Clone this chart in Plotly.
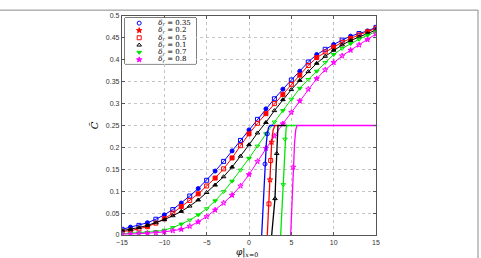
import plotly.graph_objects as go

# ---------------- data ----------------
phi = list(range(-15, 16))

C_blue = [0.013, 0.018, 0.022, 0.028, 0.036, 0.046, 0.058, 0.073, 0.089, 0.106, 0.125,
          0.146, 0.168, 0.192, 0.216, 0.240, 0.264, 0.288, 0.311, 0.333, 0.354, 0.374,
          0.395, 0.412, 0.424, 0.435, 0.445, 0.454, 0.460, 0.466, 0.474]
C_red = [0.008, 0.010, 0.014, 0.019, 0.027, 0.037, 0.050, 0.065, 0.079, 0.094, 0.112,
         0.130, 0.151, 0.176, 0.204, 0.231, 0.255, 0.277, 0.300, 0.321, 0.344, 0.365,
         0.387, 0.405, 0.418, 0.429, 0.440, 0.449, 0.457, 0.464, 0.472]
C_black = [0.010, 0.013, 0.017, 0.022, 0.028, 0.035, 0.044, 0.054, 0.066, 0.080, 0.097,
           0.114, 0.133, 0.155, 0.180, 0.206, 0.233, 0.257, 0.284, 0.309, 0.332, 0.353,
           0.373, 0.392, 0.408, 0.422, 0.434, 0.444, 0.452, 0.460, 0.468]
C_green = [0.003, 0.004, 0.005, 0.006, 0.008, 0.011, 0.017, 0.025, 0.034, 0.046, 0.060,
           0.078, 0.099, 0.123, 0.148, 0.175, 0.203, 0.231, 0.258, 0.284, 0.310, 0.335,
           0.355, 0.374, 0.394, 0.412, 0.426, 0.437, 0.447, 0.456, 0.464]
C_magenta = [0.002, 0.002, 0.003, 0.004, 0.005, 0.007, 0.010, 0.013, 0.020, 0.030, 0.042,
             0.057, 0.073, 0.091, 0.112, 0.138, 0.168, 0.198, 0.226, 0.254, 0.280, 0.306,
             0.333, 0.357, 0.377, 0.394, 0.409, 0.422, 0.434, 0.446, 0.459]

# steep (threshold) curves
vb_phi = [1.50, 1.62, 1.75, 1.89, 2.05, 2.16, 2.30, 2.48, 3.07]
vb_C = [0.00, 0.05, 0.10, 0.162, 0.21, 0.231, 0.245, 0.25, 0.25]
vr_phi = [2.16, 2.36, 2.48, 2.56, 2.68, 2.85, 3.07, 3.42]
vr_C = [0.00, 0.071, 0.126, 0.170, 0.212, 0.240, 0.25, 0.25]
vk_phi = [2.68, 2.90, 3.07, 3.18, 3.27, 3.35, 3.42, 4.49]
vk_C = [0.00, 0.040, 0.083, 0.140, 0.186, 0.235, 0.25, 0.25]
vg_phi = [3.74, 3.90, 4.05, 4.15, 4.25, 4.38, 4.49, 5.67]
vg_C = [0.00, 0.060, 0.115, 0.170, 0.219, 0.243, 0.25, 0.25]
vm_phi = [4.92, 5.08, 5.23, 5.38, 5.52, 5.67, 15]
vm_C = [0.00, 0.080, 0.155, 0.210, 0.240, 0.25, 0.25]

# marker points on steep curves (one set per delta_r)
mk_phi = {"0.35": [1.89, 2.16], "0.2": [2.48, 2.68], "0.5": [2.36, 2.56],
          "0.1": [3.07, 3.27], "0.7": [4.05, 4.25], "0.8": [5.23]}
mk_C = {"0.35": [0.162, 0.231], "0.2": [0.126, 0.212], "0.5": [0.071, 0.170],
        "0.1": [0.083, 0.186], "0.7": [0.115, 0.219], "0.8": [0.155]}

deltas = ["0.35", "0.2", "0.5", "0.1", "0.7", "0.8"]
x_ticks = [-15, -10, -5, 0, 5, 10, 15]
y_ticks = [0, 0.05, 0.1, 0.15, 0.2, 0.25, 0.3, 0.35, 0.4, 0.45, 0.5]
y_ticktext = ["0", "0.05", "0.1", "0.15", "0.2", "0.25", "0.3", "0.35", "0.4", "0.45", "0.5"]

# ---------------- style ----------------
BLUE, RED, BLACK, GREEN, MAG = "#0000ff", "#ff0000", "#000000", "#00e600", "#ff00ff"
sym_leg = {"0.35": ("circle-open", BLUE), "0.2": ("star", RED), "0.5": ("square-open", RED),
           "0.1": ("triangle-up-open", BLACK), "0.7": ("triangle-down", GREEN),
           "0.8": ("star", MAG)}
sym_steep = {"0.35": "circle-open", "0.2": "star-open", "0.5": "square-open",
             "0.1": "triangle-up-open", "0.7": "triangle-down-open", "0.8": "star-open"}
MS = 4

fig = go.Figure()

s_curves = [(C_blue, BLUE, "circle", "square-open"),
            (C_red, RED, "square", "square-open"),
            (C_black, BLACK, "triangle-up", "triangle-up-open"),
            (C_green, GREEN, "triangle-down", "triangle-down-open"),
            (C_magenta, MAG, "star", "star-open")]
for vals, col, filled, hollow in s_curves:
    symbols = [filled if p % 2 == 0 else hollow for p in phi]
    fig.add_trace(go.Scatter(x=phi, y=vals, mode="lines+markers", showlegend=False,
                             line=dict(color=col, width=1),
                             marker=dict(symbol=symbols, size=MS, color=col,
                                         line=dict(color=col, width=1))))

for px_, cy, col in [(vb_phi, vb_C, BLUE), (vr_phi, vr_C, RED), (vk_phi, vk_C, BLACK),
                     (vg_phi, vg_C, GREEN), (vm_phi, vm_C, MAG)]:
    fig.add_trace(go.Scatter(x=px_, y=cy, mode="lines", showlegend=False,
                             line=dict(color=col, width=1.3)))

for d in deltas:
    col = sym_leg[d][1]
    fig.add_trace(go.Scatter(x=mk_phi[d], y=mk_C[d], mode="markers", showlegend=False,
                             marker=dict(symbol=sym_steep[d], size=MS, color=col,
                                         line=dict(color=col, width=1))))

# hand-drawn legend on an auxiliary axis pair
rows = list(range(len(deltas) - 1, -1, -1))
fig.add_trace(go.Scatter(x=[0.2] * len(deltas), y=rows, mode="markers", xaxis="x2", yaxis="y2",
                         showlegend=False, hoverinfo="skip",
                         marker=dict(symbol=[sym_leg[d][0] for d in deltas], size=MS,
                                     color=[sym_leg[d][1] for d in deltas],
                                     line=dict(color=[sym_leg[d][1] for d in deltas], width=1))))
fig.add_trace(go.Scatter(x=[0.47] * len(deltas), y=rows, mode="text", xaxis="x2", yaxis="y2",
                         showlegend=False, hoverinfo="skip",
                         text=["<i>δ</i><sub><i>r</i></sub> = " + d for d in deltas],
                         textposition="middle right",
                         textfont=dict(family="DejaVu Serif", size=7, color="black")))

axis_common = dict(showline=True, linecolor="#555555", linewidth=1.3, mirror="ticks",
                   ticks="inside", ticklen=3, tickcolor="#555555",
                   showgrid=True, gridcolor="#c4c4c4", griddash="dot", gridwidth=1,
                   zeroline=False, tickfont=dict(family="Liberation Sans", size=7, color="#333333"))

L, R, T, B = 122, 376, 16, 240
W, H = 481, 258
fig.update_layout(
    width=W, height=H,
    margin=dict(l=L, r=W - R, t=T, b=H - B, pad=0),
    paper_bgcolor="white", plot_bgcolor="white",
    xaxis=dict(range=[-15, 15], tickvals=x_ticks, **axis_common),
    yaxis=dict(range=[0, 0.5], tickvals=y_ticks, ticktext=y_ticktext,
               title=dict(text="<i>C̃</i>", standoff=5,
                          font=dict(family="DejaVu Serif", size=10, color="black")),
               **axis_common),
    xaxis2=dict(domain=[(125 - L) / (R - L), (196 - L) / (R - L)], range=[0, 1],
                visible=False, anchor="y2"),
    yaxis2=dict(domain=[(B - 65) / (B - T), (B - 18) / (B - T)], range=[-0.58, 5.71],
                visible=False, anchor="x2"),
    shapes=[
        dict(type="rect", xref="paper", yref="paper",
             x0=(125 - L) / (R - L), x1=(196 - L) / (R - L),
             y0=(B - 65) / (B - T), y1=(B - 18) / (B - T),
             line=dict(color="black", width=1), fillcolor="white", layer="below"),
        dict(type="rect", xref="paper", yref="paper",
             x0=-0.6, x1=(478 - L) / (R - L), y0=-0.3, y1=(B - 10) / (B - T),
             line=dict(color="#888888", width=1)),
    ],
    annotations=[
        dict(text="<i>φ</i>|<sub><i>x</i>=0</sub>", xref="paper", yref="paper",
             x=(247 - L) / (R - L), y=(B - 250) / (B - T), xanchor="center", yanchor="top",
             showarrow=False, font=dict(family="DejaVu Serif", size=9, color="black")),
    ],
)

fig.write_html("out.html")
